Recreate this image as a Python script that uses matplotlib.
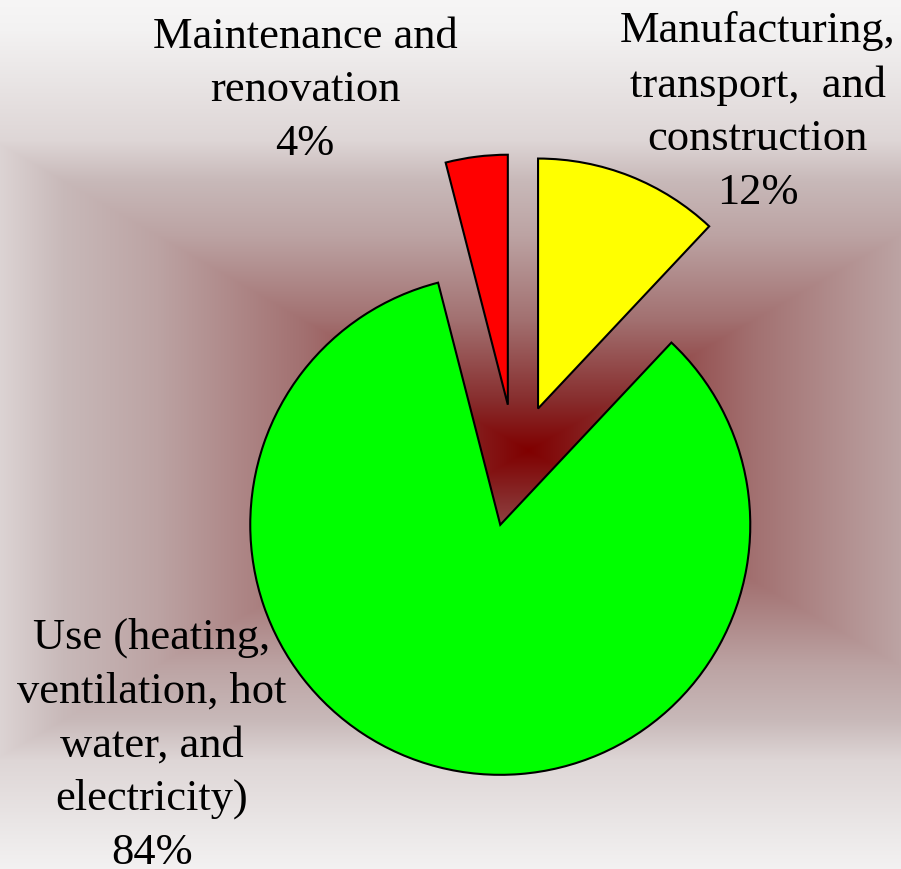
import numpy as np
import matplotlib
matplotlib.use("Agg")
import matplotlib.pyplot as plt

# ---- data ----
categories = ["Manufacturing,\ntransport,  and\nconstruction",
              "Use (heating,\nventilation, hot\nwater, and\nelectricity)",
              "Maintenance and\nrenovation"]
shares = [12, 84, 4]
slice_colors = ["#ffff00", "#00ff00", "#ff0000"]

W, H = 901, 869
fig = plt.figure(figsize=(W / 100, H / 100), dpi=100)

# ---- background: rectangular "from centre" gradient ----
bg = fig.add_axes([0, 0, 1, 1])
yy, xx = np.mgrid[0:H, 0:W].astype(float)
cx, cy = 528.0, 450.0
ratio = 0.58
s = np.maximum(np.abs(xx - cx) * ratio, np.abs(yy - cy))
stops = [0, 50, 130, 215, 270, 310, 420, 460]
r_st = [128, 135, 162, 188, 200, 222, 243, 248]
g_st = [0, 45, 112, 163, 185, 214, 242, 247]
img = np.dstack([np.interp(s, stops, r_st),
                 np.interp(s, stops, g_st),
                 np.interp(s, stops, g_st)]) / 255.0
bg.imshow(img, extent=[0, W, H, 0], aspect="auto", interpolation="bilinear")
bg.set_axis_off()

# ---- pie ----
ax = fig.add_axes([0, 0, 1, 1])
ax.patch.set_visible(False)
pcx, pcy, R = 515.5, 465.5, 250.0
off = 0.245 * R
ax.pie(shares, explode=[off] * 3, colors=slice_colors, startangle=90,
       counterclock=False, radius=R, center=(pcx, H - pcy),
       wedgeprops=dict(edgecolor="black", linewidth=1.5))
ax.set_xlim(0, W)
ax.set_ylim(0, H)
ax.set_aspect("auto")
ax.set_axis_off()

# ---- labels (x centre, baseline of the last line) ----
label_pos = [(757.5, 204), (152, 864), (305, 155)]
font = dict(family=["Liberation Serif", "DejaVu Serif"], size=32)
for name, val, (lx, ly) in zip(categories, shares, label_pos):
    ax.text(lx, H - ly, f"{name}\n{val}%", ha="center", va="baseline",
            multialignment="center", linespacing=1.44, color="black", **font)

fig.savefig("out.png", dpi=100)
